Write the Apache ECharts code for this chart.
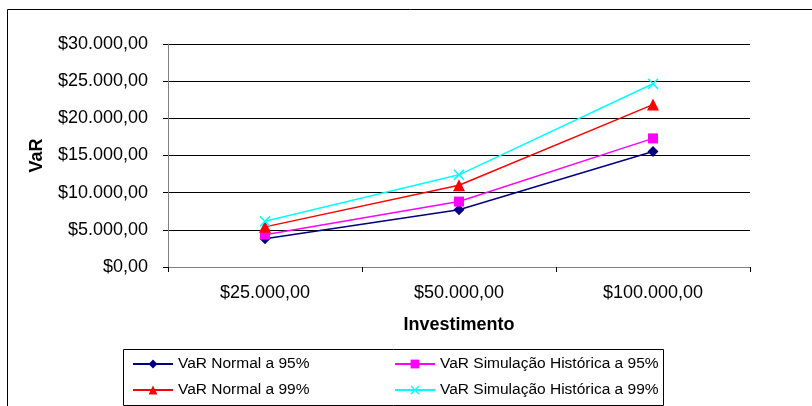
<!DOCTYPE html>
<html>
<head>
<meta charset="utf-8">
<script src="https://cdn.jsdelivr.net/npm/echarts@6/dist/echarts.min.js"></script>
<style>html,body{margin:0;padding:0;background:#fff}#c{width:812px;height:406px}</style>
</head>
<body>
<div id="c"></div>
<script>
const categories = ['$25.000,00', '$50.000,00', '$100.000,00'];
const yTickLabels = ['$0,00', '$5.000,00', '$10.000,00', '$15.000,00', '$20.000,00', '$25.000,00', '$30.000,00'];
const normal95 = [3800, 7700, 15550];
const historica95 = [4350, 8800, 17300];
const normal99 = [5400, 11000, 21850];
const historica99 = [6150, 12400, 24650];
const seriesNames = ['VaR Normal a 95%', 'VaR Simulação Histórica a 95%', 'VaR Normal a 99%', 'VaR Simulação Histórica a 99%'];

const FONT = '"Liberation Sans", Arial, sans-serif';
const crossPath = 'path://M0,1L1,0L5,4L9,0L10,1L6,5L10,9L9,10L5,6L1,10L0,9L4,5Z';

function mk(name, data, color, symbol, size) {
  return {
    name: name, type: 'line', data: data,
    symbol: symbol, symbolSize: size,
    lineStyle: { color: color, width: 1.5 },
    itemStyle: { color: color },
    emphasis: { disabled: true },
    animation: false
  };
}

const chart = echarts.init(document.getElementById('c'));
chart.setOption({
  animation: false,
  backgroundColor: '#fff',
  textStyle: { fontFamily: FONT },
  grid: { left: 168, right: 62, top: 44, bottom: 139, containLabel: false },
  xAxis: {
    type: 'category', data: categories, boundaryGap: true,
    name: 'Investimento', nameLocation: 'middle', nameGap: 49,
    nameTextStyle: { fontFamily: FONT, fontSize: 18, fontWeight: 'bold', color: '#000' },
    axisLine: { lineStyle: { color: '#808080', width: 1 } },
    axisTick: { show: true, length: 5, lineStyle: { color: '#000' } },
    axisLabel: { fontFamily: FONT, fontSize: 18, color: '#000', margin: 17 },
    splitLine: { show: false }
  },
  yAxis: {
    type: 'value', min: 0, max: 30000, interval: 5000,
    name: 'VaR', nameLocation: 'middle', nameGap: 122, nameRotate: 90,
    nameTextStyle: { fontFamily: FONT, fontSize: 18, fontWeight: 'bold', color: '#000' },
    axisLine: { show: true, lineStyle: { color: '#808080', width: 1 } },
    axisTick: { show: true, inside: false, length: 5, lineStyle: { color: '#000' } },
    axisLabel: {
      fontFamily: FONT, fontSize: 18, color: '#000', margin: 20,
      formatter: function (v) { return yTickLabels[Math.round(v / 5000)]; }
    },
    splitLine: { show: true, lineStyle: { color: '#000', width: 1 } }
  },
  legend: [
    {
      orient: 'vertical', left: 132, top: 356, itemGap: 10, padding: 0,
      itemWidth: 40, itemHeight: 11,
      data: [seriesNames[0], seriesNames[2]],
      textStyle: { fontFamily: FONT, fontSize: 15.5, color: '#000' },
      selectedMode: false
    },
    {
      orient: 'vertical', left: 394, top: 356, itemGap: 10, padding: 0,
      itemWidth: 40, itemHeight: 11,
      data: [seriesNames[1], seriesNames[3]],
      textStyle: { fontFamily: FONT, fontSize: 15.5, color: '#000' },
      selectedMode: false
    }
  ],
  graphic: [
    { type: 'rect', shape: { x: 7.5, y: 9.5, width: 830, height: 430 }, style: { fill: 'none', stroke: '#000', lineWidth: 1 }, silent: true, z: -1 },
    { type: 'rect', shape: { x: 123.5, y: 349.5, width: 540, height: 56 }, style: { fill: 'none', stroke: '#000', lineWidth: 1 }, silent: true }
  ],
  series: [
    mk(seriesNames[0], normal95, '#000080', 'diamond', 11),
    mk(seriesNames[1], historica95, '#FF00FF', 'rect', 10),
    mk(seriesNames[2], normal99, '#FF0000', 'triangle', 12),
    mk(seriesNames[3], historica99, '#00FFFF', crossPath, 11)
  ]
});
</script>
</body>
</html>
